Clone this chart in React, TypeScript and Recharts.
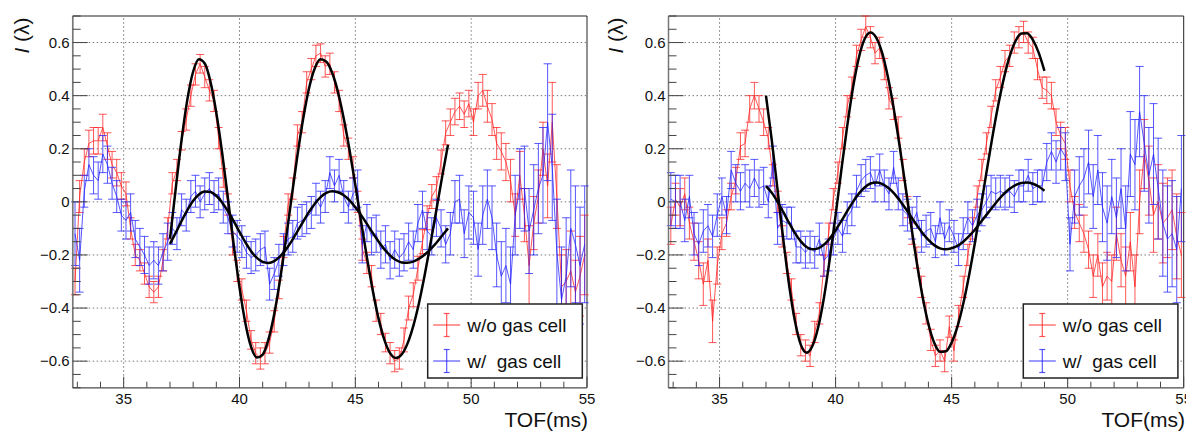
import React from "react";
import {
  ComposedChart,
  Line,
  XAxis,
  YAxis,
  ErrorBar,
  ReferenceLine,
  ReferenceArea
} from "recharts";

const FONT = '"Liberation Sans", Arial, Helvetica, sans-serif';

// TOF bins (ms)
const tof = [
  32.9, 33.1, 33.3, 33.5, 33.7, 33.9, 34.1, 34.3, 34.5, 34.7, 34.9,
  35.1, 35.3, 35.5, 35.7, 35.9, 36.1, 36.3, 36.5, 36.7, 36.9,
  37.1, 37.3, 37.5, 37.7, 37.9, 38.1, 38.3, 38.5, 38.7, 38.9,
  39.1, 39.3, 39.5, 39.7, 39.9, 40.1, 40.3, 40.5, 40.7, 40.9,
  41.1, 41.3, 41.5, 41.7, 41.9, 42.1, 42.3, 42.5, 42.7, 42.9,
  43.1, 43.3, 43.5, 43.7, 43.9, 44.1, 44.3, 44.5, 44.7, 44.9,
  45.1, 45.3, 45.5, 45.7, 45.9, 46.1, 46.3, 46.5, 46.7, 46.9,
  47.1, 47.3, 47.5, 47.7, 47.9, 48.1, 48.3, 48.5, 48.7, 48.9,
  49.1, 49.3, 49.5, 49.7, 49.9, 50.1, 50.3, 50.5, 50.7, 50.9,
  51.1, 51.3, 51.5, 51.7, 51.9, 52.1, 52.3, 52.5, 52.7, 52.9,
  53.1, 53.3, 53.5, 53.7, 53.9, 54.1, 54.3, 54.5, 54.7, 54.9
];

// fit range samples
const fitTof = [
  37.0, 37.25, 37.5, 37.75, 38.0, 38.25, 38.5, 38.75, 39.0, 39.25, 39.5, 39.75,
  40.0, 40.25, 40.5, 40.75, 41.0, 41.25, 41.5, 41.75, 42.0, 42.25, 42.5, 42.75,
  43.0, 43.25, 43.5, 43.75, 44.0, 44.25, 44.5, 44.75, 45.0, 45.25, 45.5, 45.75,
  46.0, 46.25, 46.5, 46.75, 47.0, 47.25, 47.5, 47.75, 48.0, 48.25, 48.5, 48.75,
  49.0
];

// ---- left panel ----
const leftNoCell = [
  -0.30, 0.02, 0.15, 0.22, 0.23, 0.23, 0.28, 0.21, 0.14, 0.11, 0.06,
  0.03, -0.10, -0.20, -0.22, -0.27, -0.32, -0.34, -0.32, -0.22, -0.10,
  0.07, 0.12, 0.23, 0.31, 0.40, 0.48, 0.52, 0.47, 0.42, 0.38,
  0.24, 0.09, -0.01, -0.16, -0.26, -0.33, -0.41, -0.52, -0.57, -0.59,
  -0.57, -0.53, -0.45, -0.33, -0.17, -0.01, 0.05, 0.25, 0.30, 0.45,
  0.50, 0.55, 0.56, 0.51, 0.52, 0.45, 0.38, 0.25, 0.20, 0.13,
  0.00, -0.18, -0.23, -0.28, -0.41, -0.46, -0.53, -0.57, -0.60, -0.59,
  -0.52, -0.40, -0.35, -0.25, -0.15, -0.06, 0.02, 0.05, 0.15, 0.26,
  0.30, 0.34, 0.36, 0.33, 0.37, 0.30, 0.40, 0.42, 0.36, 0.31,
  0.22, 0.19, 0.15, 0.08, -0.05, 0.10, -0.05, -0.24, -0.08, 0.02,
  0.20, 0.06, 0.30, 0.02, -0.32, -0.30, -0.26, -0.34, -0.28, -0.20
];
const leftNoCellErr = [
  0.05, 0.06, 0.05, 0.05, 0.05, 0.05, 0.05, 0.05, 0.05, 0.05, 0.05,
  0.045, 0.04, 0.04, 0.04, 0.04, 0.04, 0.04, 0.04, 0.04, 0.04,
  0.04, 0.04, 0.035, 0.04, 0.04, 0.04, 0.035, 0.04, 0.04, 0.04,
  0.04, 0.035, 0.04, 0.04, 0.04, 0.04, 0.04, 0.035, 0.04, 0.04,
  0.04, 0.04, 0.04, 0.035, 0.04, 0.04, 0.04, 0.04, 0.04, 0.04,
  0.04, 0.04, 0.035, 0.04, 0.04, 0.04, 0.04, 0.04, 0.04, 0.04,
  0.04, 0.04, 0.04, 0.04, 0.04, 0.04, 0.035, 0.04, 0.04, 0.04,
  0.045, 0.045, 0.045, 0.045, 0.045, 0.045, 0.045, 0.045, 0.045, 0.045,
  0.05, 0.05, 0.05, 0.05, 0.05, 0.05, 0.05, 0.06, 0.06, 0.06,
  0.06, 0.07, 0.07, 0.08, 0.08, 0.09, 0.10, 0.15, 0.10, 0.10,
  0.10, 0.12, 0.15, 0.12, 0.12, 0.12, 0.15, 0.12, 0.15, 0.15
];
const leftCell = [
  -0.12, -0.22, 0.04, 0.14, 0.10, 0.08, 0.18, 0.14, 0.07, 0.02, -0.05,
  -0.07, -0.04, -0.14, -0.17, -0.20, -0.24, -0.22, -0.24, -0.19, -0.15,
  -0.10, -0.12, -0.03, -0.05, 0.02, 0.04, 0.00, 0.03, 0.05, 0.02,
  0.03, -0.02, -0.06, -0.11, -0.13, -0.15, -0.19, -0.21, -0.20, -0.18,
  -0.17, -0.31, -0.27, -0.22, -0.18, -0.14, -0.13, -0.08, -0.07, -0.06,
  -0.04, 0.01, -0.02, 0.02, 0.11, 0.06, 0.10, 0.02, -0.02, 0.03,
  0.05, -0.16, -0.08, -0.13, -0.12, -0.18, -0.16, -0.22, -0.18, -0.21,
  -0.19, -0.15, -0.18, -0.08, -0.03, -0.11, -0.13, -0.06, -0.10, -0.16,
  -0.12, 0.00, 0.01, -0.12, -0.04, -0.06, -0.18, -0.05, 0.01, -0.06,
  -0.20, -0.28, -0.24, -0.31, -0.05, 0.05, 0.05, -0.11, -0.03, 0.05,
  0.10, 0.30, 0.13, -0.19, -0.37, -0.28, -0.10, -0.16, -0.24, -0.16
];
const leftCellErr = [
  0.12, 0.12, 0.06, 0.06, 0.07, 0.07, 0.07, 0.07, 0.06, 0.06, 0.06,
  0.07, 0.07, 0.07, 0.07, 0.07, 0.07, 0.07, 0.07, 0.07, 0.07,
  0.06, 0.06, 0.06, 0.06, 0.06, 0.06, 0.06, 0.06, 0.06, 0.06,
  0.06, 0.06, 0.06, 0.06, 0.06, 0.06, 0.06, 0.06, 0.06, 0.06,
  0.06, 0.06, 0.06, 0.06, 0.06, 0.06, 0.06, 0.06, 0.06, 0.06,
  0.06, 0.06, 0.06, 0.06, 0.06, 0.06, 0.06, 0.06, 0.06, 0.06,
  0.07, 0.07, 0.07, 0.07, 0.07, 0.07, 0.07, 0.07, 0.07, 0.07,
  0.07, 0.07, 0.07, 0.07, 0.07, 0.07, 0.07, 0.07, 0.07, 0.07,
  0.08, 0.08, 0.09, 0.09, 0.10, 0.10, 0.10, 0.11, 0.11, 0.12,
  0.12, 0.13, 0.14, 0.14, 0.15, 0.15, 0.16, 0.16, 0.17, 0.17,
  0.18, 0.22, 0.20, 0.20, 0.20, 0.22, 0.22, 0.22, 0.22, 0.22
];
const leftNoCellFit = [
  -0.139, 0.052, 0.234, 0.386, 0.491, 0.537, 0.521, 0.451, 0.335, 0.185, 0.014, -0.161,
  -0.322, -0.455, -0.546, -0.586, -0.575, -0.518, -0.422, -0.294, -0.143, 0.017, 0.174, 0.314,
  0.427, 0.503, 0.537, 0.528, 0.486, 0.414, 0.314, 0.195, 0.063, -0.075, -0.209, -0.333,
  -0.439, -0.519, -0.570, -0.588, -0.575, -0.534, -0.468, -0.380, -0.273, -0.154, -0.030, 0.096,
  0.215
];
const leftCellFit = [
  -0.158, -0.116, -0.072, -0.031, 0.004, 0.028, 0.039, 0.037, 0.023, -0.002, -0.035, -0.073,
  -0.113, -0.152, -0.186, -0.211, -0.226, -0.230, -0.223, -0.205, -0.180, -0.148, -0.111, -0.074,
  -0.038, -0.007, 0.018, 0.034, 0.040, 0.036, 0.025, 0.006, -0.020, -0.050, -0.083, -0.117,
  -0.149, -0.178, -0.202, -0.219, -0.228, -0.229, -0.225, -0.214, -0.198, -0.178, -0.154, -0.127,
  -0.100
];

// ---- right panel ----
const rightNoCell = [
  -0.09, 0.01, -0.02, 0.03, -0.08, -0.15, -0.22, -0.31, -0.22, -0.45, -0.24,
  -0.12, -0.08, 0.02, 0.08, 0.21, 0.22, 0.35, 0.40, 0.35, 0.30,
  0.24, 0.10, 0.00, -0.13, -0.23, -0.33, -0.46, -0.54, -0.56, -0.58,
  -0.49, -0.42, -0.24, -0.12, 0.01, 0.11, 0.24, 0.36, 0.43, 0.55,
  0.61, 0.66, 0.62, 0.56, 0.58, 0.50, 0.39, 0.35, 0.28, 0.12,
  -0.02, -0.12, -0.21, -0.32, -0.42, -0.52, -0.58, -0.56, -0.60, -0.47,
  -0.56, -0.43, -0.32, -0.20, -0.10, 0.02, 0.12, 0.22, 0.32, 0.42,
  0.47, 0.53, 0.55, 0.60, 0.62, 0.64, 0.60, 0.58, 0.50, 0.43,
  0.42, 0.40, 0.30, 0.25, 0.22, 0.06, -0.04, -0.08, -0.12, -0.18,
  -0.28, -0.20, -0.32, -0.28, -0.30, -0.12, -0.22, -0.28, -0.15, -0.32,
  0.00, 0.18, 0.08, -0.05, 0.00, -0.08, -0.06, -0.03, -0.13, -0.20
];
const rightNoCellErr = [
  0.07, 0.06, 0.07, 0.06, 0.06, 0.07, 0.07, 0.08, 0.08, 0.08, 0.07,
  0.06, 0.05, 0.05, 0.05, 0.05, 0.05, 0.05, 0.05, 0.05, 0.05,
  0.04, 0.04, 0.04, 0.04, 0.04, 0.04, 0.04, 0.04, 0.04, 0.04,
  0.04, 0.04, 0.04, 0.04, 0.04, 0.04, 0.04, 0.04, 0.04, 0.04,
  0.04, 0.04, 0.04, 0.04, 0.04, 0.04, 0.04, 0.04, 0.04, 0.04,
  0.04, 0.04, 0.04, 0.04, 0.04, 0.04, 0.04, 0.04, 0.04, 0.04,
  0.04, 0.04, 0.04, 0.04, 0.04, 0.04, 0.04, 0.04, 0.04, 0.04,
  0.04, 0.04, 0.04, 0.04, 0.04, 0.04, 0.04, 0.04, 0.04, 0.04,
  0.05, 0.05, 0.05, 0.05, 0.06, 0.06, 0.06, 0.07, 0.07, 0.07,
  0.08, 0.08, 0.09, 0.09, 0.10, 0.10, 0.10, 0.11, 0.11, 0.12,
  0.12, 0.13, 0.13, 0.14, 0.14, 0.15, 0.15, 0.15, 0.16, 0.16
];
const rightCell = [
  0.01, 0.00, 0.00, -0.07, 0.02, -0.12, -0.16, -0.11, -0.09, -0.13, -0.05,
  0.02, -0.05, 0.12, 0.07, 0.04, 0.07, 0.05, 0.09, 0.05, 0.06,
  0.00, 0.15, -0.10, -0.07, -0.08, -0.08, -0.17, -0.17, -0.19, -0.17,
  -0.19, -0.14, -0.22, -0.20, -0.14, -0.10, -0.13, -0.06, -0.03, 0.04,
  0.08, 0.10, 0.11, 0.06, 0.12, 0.06, 0.03, 0.13, 0.03, -0.03,
  -0.05, -0.08, -0.04, -0.13, -0.11, -0.10, -0.15, -0.06, -0.14, -0.09,
  -0.13, -0.18, -0.12, -0.06, -0.09, -0.05, -0.03, 0.00, 0.04, 0.03,
  0.04, 0.03, 0.04, 0.02, 0.06, 0.06, 0.10, 0.05, 0.06, 0.06,
  0.15, 0.19, 0.15, 0.20, 0.17, -0.16, 0.02, 0.06, 0.09, 0.15,
  0.02, 0.12, -0.02, -0.08, 0.02, -0.06, 0.05, -0.10, 0.18, 0.14,
  0.34, 0.22, 0.10, 0.18, 0.05, -0.08, -0.14, -0.12, -0.18, 0.05
];
const rightCellErr = [
  0.10, 0.10, 0.10, 0.08, 0.08, 0.08, 0.08, 0.08, 0.08, 0.08, 0.08,
  0.07, 0.07, 0.07, 0.07, 0.07, 0.07, 0.07, 0.07, 0.07, 0.07,
  0.06, 0.06, 0.06, 0.06, 0.06, 0.06, 0.06, 0.06, 0.06, 0.06,
  0.06, 0.06, 0.06, 0.06, 0.06, 0.06, 0.06, 0.06, 0.06, 0.06,
  0.06, 0.06, 0.06, 0.06, 0.06, 0.06, 0.06, 0.06, 0.06, 0.06,
  0.06, 0.06, 0.06, 0.06, 0.06, 0.06, 0.06, 0.06, 0.06, 0.06,
  0.06, 0.06, 0.06, 0.06, 0.06, 0.06, 0.06, 0.06, 0.06, 0.06,
  0.06, 0.06, 0.06, 0.06, 0.06, 0.06, 0.06, 0.06, 0.06, 0.06,
  0.07, 0.07, 0.08, 0.08, 0.09, 0.10, 0.10, 0.11, 0.11, 0.12,
  0.12, 0.13, 0.13, 0.14, 0.14, 0.15, 0.15, 0.16, 0.16, 0.17,
  0.17, 0.18, 0.18, 0.19, 0.19, 0.20, 0.20, 0.20, 0.20, 0.20
];
const rightNoCellFit = [
  0.400, 0.232, 0.045, -0.144, -0.315, -0.450, -0.538, -0.568, -0.543, -0.472, -0.360, -0.215,
  -0.051, 0.121, 0.285, 0.430, 0.542, 0.613, 0.638, 0.619, 0.563, 0.472, 0.354, 0.215,
  0.066, -0.086, -0.230, -0.358, -0.460, -0.531, -0.565, -0.563, -0.530, -0.470, -0.384, -0.277,
  -0.156, -0.024, 0.110, 0.241, 0.361, 0.465, 0.548, 0.605, 0.634, 0.635, 0.610, 0.562,
  0.493
];
const rightCellFit = [
  0.059, 0.034, 0.000, -0.039, -0.080, -0.118, -0.149, -0.170, -0.179, -0.175, -0.161, -0.138,
  -0.107, -0.072, -0.035, 0.000, 0.031, 0.054, 0.069, 0.073, 0.068, 0.054, 0.034, 0.007,
  -0.023, -0.056, -0.088, -0.118, -0.143, -0.163, -0.175, -0.179, -0.175, -0.166, -0.150, -0.129,
  -0.105, -0.077, -0.049, -0.021, 0.006, 0.030, 0.049, 0.063, 0.071, 0.073, 0.068, 0.058,
  0.042
];

// axes
const xTicks = [33, 34, 35, 36, 37, 38, 39, 40, 41, 42, 43, 44, 45, 46, 47, 48, 49, 50, 51, 52, 53, 54, 55];
const xMajor = [35, 40, 45, 50, 55];
const xTickLabels = ["35", "40", "45", "50", "55"];
const yTicks = [
  -0.7, -0.65, -0.6, -0.55, -0.5, -0.45, -0.4, -0.35, -0.3, -0.25, -0.2, -0.15, -0.1, -0.05, 0,
  0.05, 0.1, 0.15, 0.2, 0.25, 0.3, 0.35, 0.4, 0.45, 0.5, 0.55, 0.6, 0.65, 0.7
];
const yMajor = [-0.6, -0.4, -0.2, 0, 0.2, 0.4, 0.6];
const yTickLabels = ["\u22120.6", "\u22120.4", "\u22120.2", "0", "0.2", "0.4", "0.6"];

const RED = "#ff1f1f";
const BLUE = "#1f1fff";

function YTick(props: any) {
  const { x, y, payload } = props;
  const i = yMajor.findIndex((m) => Math.abs(m - payload.value) < 1e-6);
  const len = i >= 0 ? 15 : 8;
  return (
    <g>
      <line x1={x} x2={x + len} y1={y} y2={y} stroke="#444" strokeWidth={1} />
      {i >= 0 && (
        <text x={x - 3} y={y + 5} textAnchor="end" fontSize={15} fontFamily={FONT} fill="#111">
          {yTickLabels[i]}
        </text>
      )}
    </g>
  );
}

function XTick(props: any) {
  const { x, y, payload } = props;
  const i = xMajor.indexOf(payload.value);
  const len = i >= 0 ? 11 : 6;
  return (
    <g>
      <line x1={x} x2={x} y1={y} y2={y - len} stroke="#444" strokeWidth={1} />
      {i >= 0 && (
        <text x={x} y={y + 16} textAnchor="middle" fontSize={15} fontFamily={FONT} fill="#111">
          {xTickLabels[i]}
        </text>
      )}
    </g>
  );
}

type PanelProps = {
  left: number;
  width: number;
  plotLeft: number;
  plotRight: number;
  noCell: number[];
  noCellErr: number[];
  cell: number[];
  cellErr: number[];
  noCellFit: number[];
  cellFit: number[];
};

const PANEL_H = 431;
const PLOT_TOP = 16;
const PLOT_BOTTOM = 387.7;

function Panel({ left, width, plotLeft, plotRight, noCell, noCellErr, cell, cellErr, noCellFit, cellFit }: PanelProps) {
  const redData = tof.map((x, i) => ({ x, y: noCell[i], e: noCellErr[i] }));
  const blueData = tof.map((x, i) => ({ x, y: cell[i], e: cellErr[i] }));
  const redFit = fitTof.map((x, i) => ({ x, y: noCellFit[i] }));
  const blueFit = fitTof.map((x, i) => ({ x, y: cellFit[i] }));

  return (
    <div style={{ position: "absolute", left, top: 0 }}>
      <ComposedChart
        width={width}
        height={PANEL_H}
        margin={{ top: PLOT_TOP, right: width - plotRight, bottom: 0, left: 0 }}
      >
        <XAxis
          dataKey="x"
          type="number"
          domain={[32.8, 55]}
          allowDataOverflow
          ticks={xTicks}
          interval={0}
          tick={<XTick />}
          tickLine={false}
          tickSize={0}
          tickMargin={0}
          height={PANEL_H - PLOT_BOTTOM}
          axisLine={{ stroke: "#777", strokeWidth: 1.5 }}
        />
        <YAxis
          dataKey="y"
          type="number"
          domain={[-0.7, 0.7]}
          allowDataOverflow
          ticks={yTicks}
          interval={0}
          tick={<YTick />}
          tickLine={false}
          tickSize={0}
          tickMargin={0}
          width={plotLeft}
          axisLine={{ stroke: "#777", strokeWidth: 1.5 }}
        />
        {xMajor.slice(0, 4).map((v) => (
          <ReferenceLine key={"gx" + v} x={v} stroke="#777" strokeDasharray="1.5 2.5" />
        ))}
        {yMajor.map((v) => (
          <ReferenceLine key={"gy" + v} y={v} stroke="#777" strokeDasharray="1.5 2.5" />
        ))}
        <ReferenceArea x1={32.8} x2={55} y1={-0.7} y2={0.7} fill="none" stroke="#222" strokeWidth={1} />
        <Line
          data={redData}
          dataKey="y"
          type="linear"
          stroke={RED}
          strokeOpacity={0.75}
          strokeWidth={1}
          dot={false}
          isAnimationActive={false}
        >
          <ErrorBar dataKey="e" width={4} stroke={RED} strokeOpacity={0.75} strokeWidth={1} />
        </Line>
        <Line
          data={blueData}
          dataKey="y"
          type="linear"
          stroke={BLUE}
          strokeOpacity={0.75}
          strokeWidth={1}
          dot={false}
          isAnimationActive={false}
        >
          <ErrorBar dataKey="e" width={4} stroke={BLUE} strokeOpacity={0.75} strokeWidth={1} />
        </Line>
        <Line
          data={redFit}
          dataKey="y"
          type="monotone"
          stroke="#000"
          strokeWidth={2.5}
          dot={false}
          isAnimationActive={false}
        />
        <Line
          data={blueFit}
          dataKey="y"
          type="monotone"
          stroke="#000"
          strokeWidth={2.5}
          dot={false}
          isAnimationActive={false}
        />
      </ComposedChart>
    </div>
  );
}

function LegendBox({ x }: { x: number }) {
  const rows = [
    { label: "w/o gas cell", color: RED, cy: 325 },
    { label: "w/  gas cell", color: BLUE, cy: 361 }
  ];
  return (
    <g>
      <rect x={x} y={304} width={154.6} height={74} fill="#fff" stroke="#222" strokeWidth={1.5} />
      {rows.map((r) => (
        <g key={r.label} stroke={r.color} strokeOpacity={0.75} strokeWidth={1.2}>
          <line x1={x + 5.5} x2={x + 32.5} y1={r.cy} y2={r.cy} />
          <line x1={x + 19} x2={x + 19} y1={r.cy - 11.5} y2={r.cy + 11.5} />
          <line x1={x + 16} x2={x + 22} y1={r.cy - 11.5} y2={r.cy - 11.5} />
          <line x1={x + 16} x2={x + 22} y1={r.cy + 11.5} y2={r.cy + 11.5} />
        </g>
      ))}
      {rows.map((r) => (
        <text
          key={"t" + r.label}
          x={x + 39.5}
          y={r.cy + 6.5}
          fontSize={19}
          fontFamily={FONT}
          fill="#111"
          style={{ whiteSpace: "pre" }}
        >
          {r.label}
        </text>
      ))}
    </g>
  );
}

function YTitle({ x }: { x: number }) {
  return (
    <text
      x={x}
      y={35.5}
      transform={`rotate(-90 ${x} 35.5)`}
      textAnchor="middle"
      fontSize={21}
      fontFamily={FONT}
      fill="#111"
    >
      <tspan fontStyle="italic">I</tspan>
      <tspan> (λ)</tspan>
    </text>
  );
}

export default function App() {
  return (
    <div
      style={{
        position: "absolute",
        left: 0,
        top: 0,
        width: 1186,
        height: 431,
        background: "#fff",
        overflow: "hidden"
      }}
    >
      <Panel
        left={0}
        width={610}
        plotLeft={72.7}
        plotRight={587}
        noCell={leftNoCell}
        noCellErr={leftNoCellErr}
        cell={leftCell}
        cellErr={leftCellErr}
        noCellFit={leftNoCellFit}
        cellFit={leftCellFit}
      />
      <Panel
        left={593}
        width={593}
        plotLeft={75.5}
        plotRight={590.7}
        noCell={rightNoCell}
        noCellErr={rightNoCellErr}
        cell={rightCell}
        cellErr={rightCellErr}
        noCellFit={rightNoCellFit}
        cellFit={rightCellFit}
      />
      <svg
        width={1186}
        height={431}
        style={{ position: "absolute", left: 0, top: 0, pointerEvents: "none" }}
      >
        <YTitle x={29} />
        <YTitle x={623} />
        <text x={588} y={427} textAnchor="end" fontSize={21} fontFamily={FONT} fill="#111">
          TOF(ms)
        </text>
        <text x={1185} y={427} textAnchor="end" fontSize={21} fontFamily={FONT} fill="#111">
          TOF(ms)
        </text>
        <LegendBox x={427.7} />
        <LegendBox x={1023.3} />
      </svg>
    </div>
  );
}
